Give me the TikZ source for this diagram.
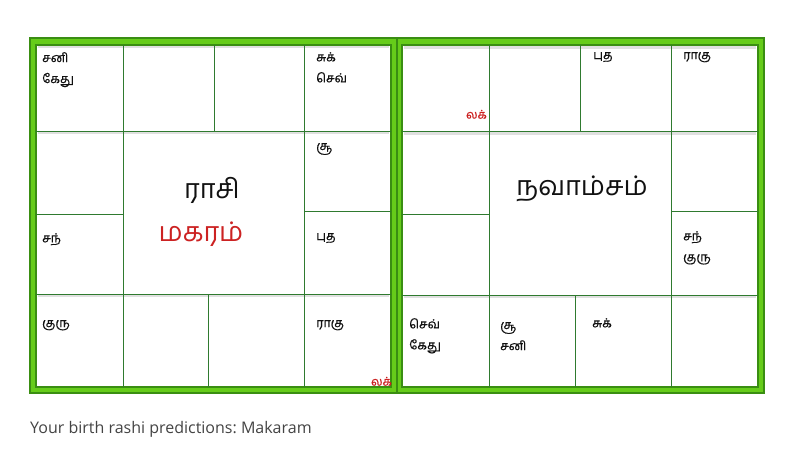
\documentclass[tikz,border=0pt]{standalone}
\usepackage{fontspec}
\newfontfamily\tamil[Script=Tamil,FakeBold=0.6]{Hind Madurai}
\newfontfamily\tamiltitle[Script=Tamil]{Hind Madurai}
\newfontfamily\capfont{Open Sans}
\definecolor{bgreen}{HTML}{66CC1A}
\definecolor{dgreen}{HTML}{3A8E12}
\definecolor{lgreen}{HTML}{2F7A2F}
\definecolor{txt}{HTML}{111111}
\definecolor{lred}{HTML}{CC2222}
\definecolor{capgray}{HTML}{444444}
\begin{document}
\begin{tikzpicture}[x=1pt,y=-1pt,
  frame/.style={fill=bgreen,draw=dgreen,line width=1.2pt},
  inner/.style={fill=white,draw=dgreen,line width=1.2pt},
  grid/.style={draw=lgreen,line width=0.9pt},
  shade/.style={draw=black!12,line width=2.5pt},
  planet/.style={anchor=north west,inner sep=0pt,font=\tamil\fontsize{12.5}{21}\selectfont,text=txt,align=left},
  lagna/.style={inner sep=0pt,font=\tamil\fontsize{12}{14}\selectfont,text=lred},
  title/.style={inner sep=0pt,font=\tamiltitle\fontsize{27}{30}\selectfont,text=txt}]
\useasboundingbox (0,0) rectangle (800,450);
\fill[white] (0,0) rectangle (800,450);
% frames
\draw[frame] (30,38) rectangle (397,393);
\draw[frame] (397,38) rectangle (764,393);
\draw[inner] (36,45) rectangle (391,387);
\draw[inner] (402,45) rectangle (758,387);
% soft shadows under horizontal lines
\foreach \y in {47,133,296} {
  \draw[shade] (38,\y) -- (389,\y);
  \draw[shade] (404,\y+0.5) -- (756,\y+0.5);
}
% left chart grid
\draw[grid] (36,131) -- (391,131);
\draw[grid] (36,294) -- (391,294);
\draw[grid] (123,45) -- (123,387);
\draw[grid] (304,45) -- (304,387);
\draw[grid] (214,45) -- (214,131);
\draw[grid] (208,294) -- (208,387);
\draw[grid] (36,214) -- (123,214);
\draw[grid] (304,211) -- (391,211);
% right chart grid
\draw[grid] (402,131) -- (758,131);
\draw[grid] (402,295) -- (758,295);
\draw[grid] (489,45) -- (489,387);
\draw[grid] (671,45) -- (671,387);
\draw[grid] (580,45) -- (580,131);
\draw[grid] (575,295) -- (575,387);
\draw[grid] (402,214) -- (489,214);
\draw[grid] (671,211) -- (758,211);
% left chart texts
\node[planet] (l1) at (42,52) {சனி\\கேது};
\node[planet] (l4) at (316,52) {சுக்\\செவ்};
\node[planet] (l5) at (316,143) {சூ};
\node[planet] (l6) at (316,233) {புத};
\node[planet] (l12) at (42,233) {சந்};
\node[planet] (l10) at (42,320) {குரு};
\node[planet] (l7) at (316,320) {ராகு};
\node[lagna,anchor=south east] (llag) at (392,386) {லக்};
\node[title] (rasi) at (212,190) {ராசி};
\node[title,text=lred] (makaram) at (201,234) {மகரம்};
% right chart texts
\node[lagna,anchor=south east] (rlag) at (487,119) {லக்};
\node[planet] (r3) at (593,52) {புத};
\node[planet] (r4) at (683,52) {ராகு};
\node[planet] (r6) at (683,231) {சந்\\குரு};
\node[planet] (r10) at (409,318) {செவ்\\கேது};
\node[planet] (r9) at (500,322) {சூ\\சனி};
\node[planet] (r8) at (592,318) {சுக்};
\node[title] (navamsam) at (582,189) {நவாம்சம்};
% caption
\node[anchor=base west,inner sep=0pt,font=\capfont\fontsize{16}{18}\selectfont,text=capgray] (cap) at (30,433) {\frenchspacing Your birth rashi predictions: Makaram};
\end{tikzpicture}
\end{document}
